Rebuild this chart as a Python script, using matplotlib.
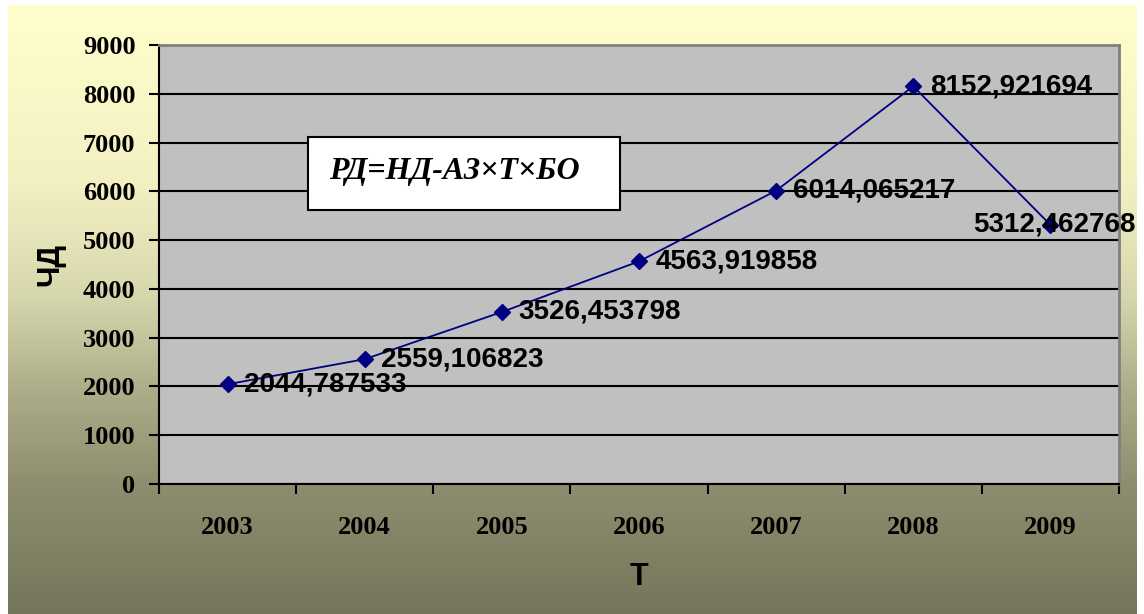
import numpy as np
import matplotlib
matplotlib.use('Agg')
import matplotlib.pyplot as plt
from matplotlib.colors import LinearSegmentedColormap
from matplotlib.patches import Rectangle

years = ['2003', '2004', '2005', '2006', '2007', '2008', '2009']
values = [2044.787533, 2559.106823, 3526.453798, 4563.919858,
          6014.065217, 8152.921694, 5312.462768]
labels = ['2044,787533', '2559,106823', '3526,453798', '4563,919858',
          '6014,065217', '8152,921694', '5312,462768']
y_ticks = list(range(0, 9001, 1000))

fig = plt.figure(figsize=(11.44, 6.14), dpi=100)
fig.patch.set_facecolor('white')

# background gradient panel (light yellow -> olive)
bg = fig.add_axes([8 / 1144, 0, 1129 / 1144, 609 / 614])
bg_cmap = LinearSegmentedColormap.from_list('bg', [
    (0.0, (1.0, 1.0, 0.80)),
    (0.30, (0.95, 0.94, 0.76)),
    (0.48, (0.84, 0.84, 0.68)),
    (0.63, (0.68, 0.68, 0.54)),
    (0.80, (0.55, 0.55, 0.43)),
    (1.0, (0.46, 0.46, 0.36)),
])
grad = np.linspace(0, 1, 256).reshape(-1, 1)
bg.imshow(grad, aspect='auto', cmap=bg_cmap, extent=[0, 1, 0, 1], origin='upper')
bg.set_axis_off()

ax = fig.add_axes([159 / 1144, 130 / 614, 960 / 1144, 439 / 614])
ax.set_facecolor('#c0c0c0')
x = np.arange(len(years))
ax.set_xlim(-0.5, len(years) - 0.5)
ax.set_ylim(0, 9000)

ax.set_yticks(y_ticks)
ax.set_yticklabels([str(v) for v in y_ticks], fontfamily='Liberation Serif',
                   fontweight='bold', fontsize=19)
ax.yaxis.grid(True, color='black', linewidth=1.5)
ax.set_axisbelow(True)
ax.tick_params(axis='y', length=7, width=1.5, pad=10, color='black')

# category labels centred, ticks on category boundaries
ax.set_xticks(x)
ax.set_xticklabels(years, fontfamily='Liberation Serif', fontweight='bold', fontsize=19)
ax.set_xticks(np.arange(-0.5, len(years)), minor=True)
ax.tick_params(axis='x', which='major', length=0, pad=23)
ax.tick_params(axis='x', which='minor', length=7, width=1.5, color='black')

for side in ['left', 'bottom']:
    ax.spines[side].set_color('black')
    ax.spines[side].set_linewidth(1.5)
for side in ['top', 'right']:
    ax.spines[side].set_color('#808080')
    ax.spines[side].set_linewidth(2)

ax.plot(x, values, color='#000080', linewidth=1.3, marker='D', markersize=8.5,
        markerfacecolor='#000080', markeredgecolor='#000080', zorder=3)

for i, (v, lab) in enumerate(zip(values, labels)):
    if i == len(values) - 1:
        ax.annotate(lab, (x[i], v), xytext=(3, 0), textcoords='offset points',
                    ha='center', va='center', fontfamily='Liberation Sans',
                    fontweight='bold', fontsize=20, zorder=4)
    else:
        ax.annotate(lab, (x[i], v), xytext=(12, 0), textcoords='offset points',
                    ha='left', va='center', fontfamily='Liberation Sans',
                    fontweight='bold', fontsize=20, zorder=4)

# formula box
ax.add_patch(Rectangle((0.155, 0.624), 0.325, 0.166, transform=ax.transAxes,
                       facecolor='white', edgecolor='black', linewidth=1.5, zorder=5))
ax.text(0.177, 0.711, 'РД=НД-АЗ×Т×БО', transform=ax.transAxes, ha='left', va='center',
        fontfamily='Liberation Serif', fontweight='bold', fontstyle='italic',
        fontsize=23, zorder=6)

fig.text(50 / 1144, 1 - 265 / 614, 'ЧД', rotation=90, ha='center', va='center',
         fontfamily='Liberation Sans', fontweight='bold', fontsize=22)
fig.text(639 / 1144, 1 - 577 / 614, 'Т', ha='center', va='center',
         fontfamily='Liberation Sans', fontweight='bold', fontsize=22)

fig.savefig('out.png', dpi=100)
